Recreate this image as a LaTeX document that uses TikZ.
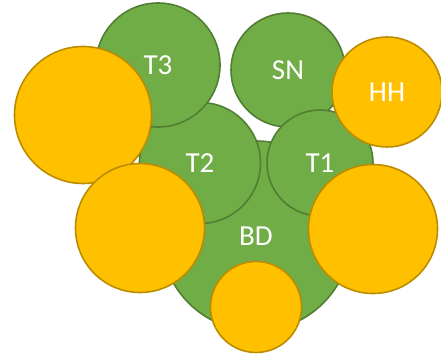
\documentclass[tikz,border=0pt]{standalone}
\usepackage{fontspec}
\setmainfont{Carlito}
\definecolor{verde}{HTML}{70AD47}
\definecolor{verdeborda}{HTML}{507E32}
\definecolor{laranja}{HTML}{FFC000}
\definecolor{laranjaborda}{HTML}{BC8C00}
\tikzset{
bola/.style = {circle, line width=1.6pt, inner sep=0pt, text=white,
               font=\fontsize{29}{31}\selectfont}
        }
\tikzset{
bolaverde/.style = {bola, draw=verdeborda, fill=verde},
bolalaranja/.style = {bola, draw=laranjaborda, fill=laranja}
        }
\begin{document}
\begin{tikzpicture}[x=1pt,y=-1pt]
    \useasboundingbox (0,0) rectangle (441,355);

    % BOLAS VERDES
    \node[bolaverde, minimum size=190pt] (BD) at (256,236) {BD};
    \node[bolaverde, minimum size=114pt] (SN) at (288,70) {SN};
    \node[bolaverde, minimum size=121pt] (T2) at (200,163) {T2};
    \node[bolaverde, minimum size=106pt] (T1) at (320,163) {T1};
    \node[bolaverde, minimum size=124pt] (T3) at (158,65) {T3};

    % BOLAS LARANJA
    \node[bolalaranja, minimum size=110pt] (HH) at (387,92) {HH};
    \node[bolalaranja, minimum size=137pt] (L1) at (83,115) {};
    \node[bolalaranja, minimum size=129pt] (L2) at (140,228) {};
    \node[bolalaranja, minimum size=129pt] (L3) at (373,229) {};
    \node[bolalaranja, minimum size=91pt] (L4) at (256,307) {};

\end{tikzpicture}
\end{document}
